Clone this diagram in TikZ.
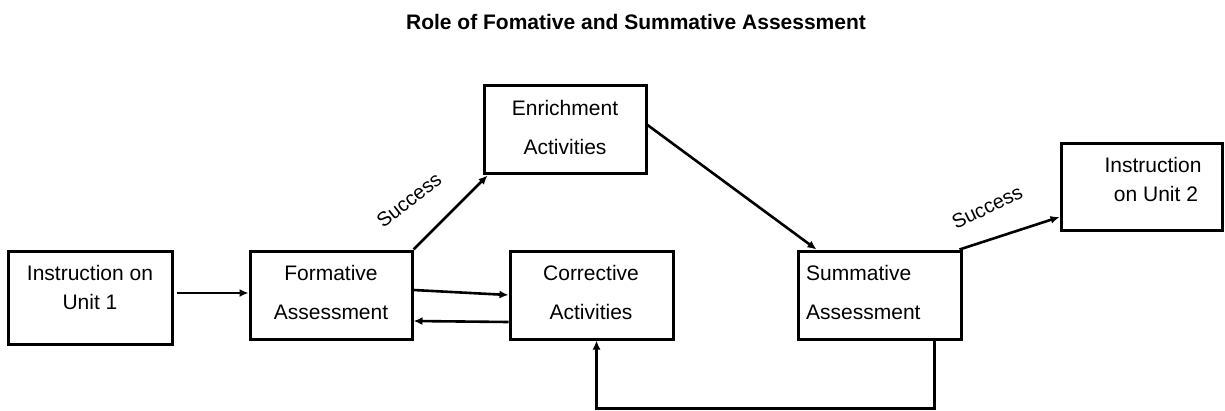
\documentclass[tikz,border=0pt]{standalone}
\usepackage{fontspec}
\setmainfont{Liberation Sans}
\usetikzlibrary{arrows.meta}
\begin{document}
\begin{tikzpicture}[x=1pt,y=-1pt,
  box/.style={draw=black,line width=3pt,inner sep=0pt,minimum width=162pt,minimum height=88pt},
  lbl/.style={inner sep=0pt,anchor=base,font=\fontsize{21}{29}\selectfont},
  arr/.style={draw=black,line width=2.6pt,-{Latex[length=9pt,width=8pt]}},
  tag/.style={inner sep=0pt,font=\fontsize{20}{24}\selectfont}]
\useasboundingbox (0,0) rectangle (1225,410);
\fill[white] (0,0) rectangle (1225,410);

% title
\node[lbl,font=\fontsize{21}{26}\selectfont\bfseries] (title) at (636,29) {Role of Fomative and Summative Assessment};

% boxes
\node[box,minimum width=164pt,minimum height=93pt] (i1) at (90,297.5) {};
\node[box] (f)  at (331,295) {};
\node[box] (e)  at (565,129) {};
\node[box,minimum width=163pt] (c)  at (591.5,295) {};
\node[box,minimum width=163pt] (s)  at (879.5,295) {};
\node[box,minimum width=161pt,minimum height=87pt] (i2) at (1141.5,186.5) {};

% box texts
\node[lbl] (i1a) at (90,280) {Instruction on};
\node[lbl] (i1b) at (90,309) {Unit 1};
\node[lbl] (fa) at (331,280) {Formative};
\node[lbl] (fb) at (331,319) {Assessment};
\node[lbl] (ea) at (565,115) {Enrichment};
\node[lbl] (eb) at (565,154) {Activities};
\node[lbl] (ca) at (591,280) {Corrective};
\node[lbl] (cb) at (591,319) {Activities};
\node[lbl,anchor=base west] (sa) at (806,280) {Summative};
\node[lbl,anchor=base west] (sb) at (806,319) {Assessment};
\node[lbl] (i2a) at (1153,172) {Instruction};
\node[lbl] (i2b) at (1156,201) {on Unit 2};

% connectors
\draw[arr] ([xshift=3pt,yshift=4.5pt]i1.east) -- ([yshift=2pt]f.west);
\draw[arr] ([yshift=5pt]f.east) -- (c.west);
\draw[arr] ([yshift=-27pt]c.west) -- ([yshift=-26pt]f.east);
\draw[arr] (f.north east) -- ([xshift=5pt,yshift=-1pt]e.south west);
\draw[arr] ([yshift=4pt]e.east) -- ([xshift=-63pt]s.north);
\draw[arr] ([xshift=-3pt]s.north east) -- ([yshift=-30.5pt]i2.west);
\draw[arr] ([xshift=55pt]s.south) -- ++(0,68) -| ([xshift=5pt]c.south);

% branch labels
\node[tag,rotate=38] (succ1) at (409,200) {Success};
\node[tag,rotate=26] (succ2) at (987,207) {Success};
\end{tikzpicture}
\end{document}
